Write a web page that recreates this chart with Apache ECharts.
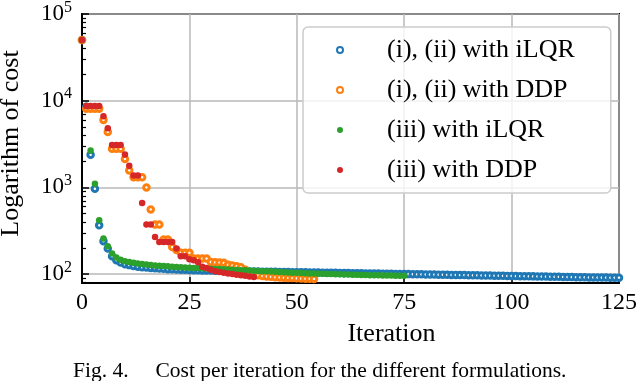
<!DOCTYPE html>
<html>
<head>
<meta charset="utf-8">
<script src="https://cdn.jsdelivr.net/npm/echarts@6/dist/echarts.min.js"></script>
<style>
  html, body { margin: 0; padding: 0; background: #fff; }
  #main { width: 640px; height: 381px; }
</style>
</head>
<body>
<div id="main"></div>
<script>
var dom = document.getElementById('main');
var myChart = echarts.init(dom);

var serif = 'Liberation Serif, DejaVu Serif, serif';

var names = ['(i), (ii) with iLQR', '(i), (ii) with DDP', '(iii) with iLQR', '(iii) with DDP'];
var colors = ['#1f77b4', '#ff7f0e', '#2ca02c', '#d62728'];

// cost per iteration, index = iteration number
var costIiIlqr = [50000, 8500, 2380, 965, 366, 240, 197, 161, 145, 136,
  130, 127, 124, 122, 120, 119, 118, 117, 116, 115,
  114, 113.5, 113, 112.5, 112, 111.5, 111, 110.7, 110.4, 110.1,
  109.8, 109.5, 109.2, 108.9, 108.6, 108.3, 108, 107.8, 107.6, 107.4,
  107.2, 107, 106.8, 106.6, 106.4, 106.2, 106, 105.8, 105.6, 105.4,
  105.2, 105, 104.8, 104.6, 104.4, 104.2, 104, 103.8, 103.6, 103.4,
  103.2, 103, 102.8, 102.6, 102.4, 102.2, 102, 101.8, 101.6, 101.4,
  101.2, 101, 100.8, 100.6, 100.4, 100.2, 100, 99.8, 99.6, 99.4,
  99.2, 99, 98.8, 98.6, 98.4, 98.2, 98, 97.8, 97.6, 97.4,
  97.2, 97, 96.8, 96.6, 96.4, 96.2, 96, 95.8, 95.6, 95.4,
  95.2, 95, 94.8, 94.6, 94.4, 94.2, 94, 93.8, 93.6, 93.4,
  93.2, 93, 92.8, 92.6, 92.4, 92.2, 92, 91.8, 91.6, 91.5,
  91.4, 91.3, 91.2, 91.1, 91, 90.9];

var costIiDdp = [50000, 8100, 8100, 8100, 8100, 6000, 4370, 2790, 2790, 2790,
  2130, 1570, 1310, 1310, 1310, 1000, 558, 373, 373, 250,
  250, 205, 190, 176, 176, 176, 151, 151, 151, 151,
  138, 137, 136, 135, 128, 126, 123, 120, 112, 105,
  100, 97, 95, 94, 93, 92, 91.5, 91, 90.5, 90,
  89.5, 89, 88.6, 88.3, 88];

var costIiiIlqr = [50000, 8700, 2660, 1100, 418, 257, 210, 173, 155, 146,
  141, 138, 135, 133, 131, 129, 127.5, 126, 125, 124,
  123, 122, 121, 120.2, 119.5, 118.8, 118, 117.3, 116.6, 116,
  115.4, 114.8, 114.2, 113.6, 113, 112.4, 111.8, 111.2, 110.6, 110,
  109.4, 108.8, 108.2, 107.6, 107, 106.4, 105.8, 105.2, 104.6, 104,
  103.5, 103, 102.5, 102, 101.6, 101.2, 100.8, 100.4, 100, 99.7,
  99.4, 99.1, 98.8, 98.5, 98.2, 97.9, 97.6, 97.3, 97, 96.8,
  96.6, 96.4, 96.2, 96, 95.8, 95.6];

var costIiiDdp = [50000, 8700, 8700, 8700, 8700, 6600, 4800, 3090, 3090, 3090,
  2390, 1780, 1370, 1370, 660, 373, 373, 268, 235, 235,
  235, 235, 197, 161, 161, 148, 145, 137, 122, 118,
  112, 108, 106, 104, 102, 100, 98.5, 97, 95.5, 94,
  92.5];

var allCosts = [costIiIlqr, costIiDdp, costIiiIlqr, costIiiDdp];
var hollow = [true, true, false, false];

function toPoints(arr) {
  return arr.map(function (v, i) { return [i, v]; });
}

var series = allCosts.map(function (arr, k) {
  var s = {
    name: names[k],
    type: 'scatter',
    data: toPoints(arr),
    symbol: 'circle',
    animation: false
  };
  if (hollow[k]) {
    s.symbolSize = 5.5;
    s.itemStyle = { color: '#ffffff', borderColor: colors[k], borderWidth: 3, opacity: 1 };
  } else {
    s.symbolSize = 6.5;
    s.itemStyle = { color: colors[k], opacity: 1 };
  }
  return s;
});

option = {
  animation: false,
  grid: {
    left: 82, right: 21, top: 14, bottom: 98,
    outerBoundsMode: 'none',
    containLabel: false,
    show: true, borderColor: '#000', borderWidth: 2
  },
  legend: {
    orient: 'vertical',
    left: 303, top: 27,
    padding: [10, 36, 10, 33],
    itemGap: 14,
    itemWidth: 6, itemHeight: 6,
    backgroundColor: 'rgba(255,255,255,0.8)',
    borderColor: '#cccccc', borderWidth: 1.5, borderRadius: 5,
    textStyle: { fontFamily: serif, fontSize: 26, color: '#000', lineHeight: 26, padding: [0, 0, 0, 39] },
    data: names
  },
  xAxis: {
    type: 'value',
    min: 0, max: 125, interval: 25,
    name: 'Iteration',
    nameLocation: 'middle',
    nameGap: 38,
    nameTextStyle: { fontFamily: serif, fontSize: 26, color: '#000', padding: [0, 0, 0, 82] },
    axisLine: { show: true, lineStyle: { color: '#000', width: 2 } },
    axisTick: { show: true, inside: true, length: 6, lineStyle: { color: '#000', width: 1.5 } },
    axisLabel: { fontFamily: serif, fontSize: 24, color: '#000', margin: 8 },
    splitLine: { show: true, lineStyle: { color: '#b8b8b8', width: 1.5 } }
  },
  yAxis: {
    type: 'log',
    logBase: 10,
    min: 79, max: 100000,
    name: 'Logarithm of cost',
    nameLocation: 'middle',
    nameGap: 58,
    nameTextStyle: { fontFamily: serif, fontSize: 26, color: '#000', padding: [0, 0, 0, 10] },
    axisLine: { show: true, lineStyle: { color: '#000', width: 2 } },
    axisTick: { show: true, inside: true, length: 7, lineStyle: { color: '#000', width: 1.5 } },
    minorTick: { show: true, splitNumber: 9, length: 4, lineStyle: { color: '#000', width: 1.2 } },
    axisLabel: {
      margin: 10,
      formatter: function (v) {
        var e = Math.round(Math.log10(v));
        if (Math.abs(v - Math.pow(10, e)) > 1e-6 * v) return '';
        return '{b|10}{s|' + e + '}';
      },
      rich: {
        b: { fontFamily: serif, fontSize: 23, color: '#000', lineHeight: 23, verticalAlign: 'bottom' },
        s: { fontFamily: serif, fontSize: 16, color: '#000', lineHeight: 16, padding: [0, 0, 10, 0], verticalAlign: 'bottom' }
      }
    },
    splitLine: { show: true, lineStyle: { color: '#b8b8b8', width: 1.5 } }
  },
  graphic: [{
    type: 'text',
    left: 73, top: 360,
    style: {
      text: 'Fig. 4.     Cost per iteration for the different formulations.',
      font: '21.5px ' + serif,
      fill: '#000'
    }
  }],
  series: series
};

if (option && typeof option === 'object') {
  myChart.setOption(option, true);
}
</script>
</body>
</html>
